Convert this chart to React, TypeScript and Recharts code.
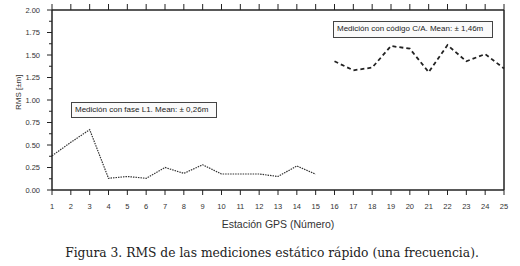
import { LineChart, Line, XAxis, YAxis } from "recharts"

// RMS per GPS station (metres)
const stations = [1, 2, 3, 4, 5, 6, 7, 8, 9, 10, 11, 12, 13, 14, 15, 16, 17, 18, 19, 20, 21, 22, 23, 24, 25]
const faseL1 = [0.38, 0.53, 0.67, 0.13, 0.15, 0.13, 0.25, 0.185, 0.28, 0.178, 0.178, 0.178, 0.15, 0.267, 0.175]
const codigoCA = [1.43, 1.33, 1.36, 1.6, 1.57, 1.31, 1.61, 1.43, 1.51, 1.35]
const yTicks = [0, 0.125, 0.25, 0.375, 0.5, 0.625, 0.75, 0.875, 1, 1.125, 1.25, 1.375, 1.5, 1.625, 1.75, 1.875, 2]

const data = stations.map((s, i) => ({
  station: s,
  fase: i < faseL1.length ? faseL1[i] : null,
  codigo: i >= faseL1.length ? codigoCA[i - faseL1.length] : null,
}))

const AXIS = "#222"
const FONT = "'Liberation Sans', Arial, sans-serif"

const isMajor = (v: number) => Math.abs(v * 4 - Math.round(v * 4)) < 1e-6

function LeftTick(props: any) {
  const { x, y, payload } = props
  const major = isMajor(payload.value)
  return (
    <g>
      <line x1={52 - (major ? 5 : 3)} x2={52} y1={y} y2={y} stroke={AXIS} strokeWidth={1} />
      {major && (
        <text x={x - 4} y={y} dy={2.6} textAnchor="end" fontSize={7.5} fill="#333" fontFamily={FONT}>
          {payload.value.toFixed(2)}
        </text>
      )}
    </g>
  )
}

function RightTick(props: any) {
  const { y, payload } = props
  const major = isMajor(payload.value)
  return <line x1={504} x2={504 + (major ? 5 : 3)} y1={y} y2={y} stroke={AXIS} strokeWidth={1} />
}

function BottomTick(props: any) {
  const { x, payload } = props
  return (
    <g>
      <line x1={x} x2={x} y1={190} y2={195} stroke={AXIS} strokeWidth={1} />
      <text x={x} y={208.5} textAnchor="middle" fontSize={7.5} fill="#333" fontFamily={FONT}>
        {payload.value}
      </text>
    </g>
  )
}

function TopTick(props: any) {
  const { x } = props
  return <line x1={x} x2={x} y1={4} y2={10} stroke={AXIS} strokeWidth={1} />
}

const boxStyle: React.CSSProperties = {
  position: "absolute",
  background: "#fafafa",
  border: "1px solid #444",
  fontFamily: FONT,
  fontSize: 8,
  color: "#222",
  lineHeight: "14px",
  paddingLeft: 3,
  boxSizing: "border-box",
  whiteSpace: "nowrap",
}

export default function App() {
  return (
    <div style={{ position: "absolute", left: 0, top: 0, width: 520, height: 266, background: "#fff" }}>
      <LineChart width={520} height={266} data={data} margin={{ top: 0, right: 0, left: 0, bottom: 0 }}>
        <XAxis
          dataKey="station"
          type="number"
          domain={[1, 25]}
          ticks={stations}
          interval={0}
          height={76}
          stroke={AXIS}
          strokeWidth={1.5}
          tickLine={false}
          tick={<BottomTick />}
          label={{ value: "Estación GPS (Número)", position: "insideTop", offset: 31, fontSize: 10.5, fill: "#333", fontFamily: FONT }}
        />
        <XAxis
          xAxisId="top"
          orientation="top"
          type="number"
          dataKey="station"
          domain={[1, 25]}
          ticks={stations}
          interval={0}
          height={10}
          stroke={AXIS}
          strokeWidth={1.5}
          tickLine={false}
          tick={<TopTick />}
        />
        <YAxis
          type="number"
          domain={[0, 2]}
          ticks={yTicks}
          interval={0}
          width={52}
          stroke={AXIS}
          strokeWidth={1.5}
          tickLine={false}
          tick={<LeftTick />}
          label={{ value: "RMS [±m]", angle: -90, position: "insideLeft", offset: 8, dx: 10, dy: 10, fontSize: 8, fill: "#333", fontFamily: FONT }}
        />
        <YAxis
          yAxisId="right"
          orientation="right"
          type="number"
          domain={[0, 2]}
          ticks={yTicks}
          interval={0}
          width={16}
          stroke={AXIS}
          strokeWidth={1.5}
          tickLine={false}
          tick={<RightTick />}
        />
        <Line
          dataKey="fase"
          stroke="#333"
          strokeWidth={1.2}
          strokeDasharray="1.5 1"
          dot={false}
          connectNulls={false}
          isAnimationActive={false}
        />
        <Line
          dataKey="codigo"
          stroke="#222"
          strokeWidth={1.8}
          strokeDasharray="4 3"
          dot={false}
          connectNulls={false}
          isAnimationActive={false}
        />
      </LineChart>
      <div style={{ ...boxStyle, left: 71, top: 102, width: 146, height: 16 }}>
        Medición con fase L1. Mean: ± 0,26m
      </div>
      <div style={{ ...boxStyle, left: 333, top: 21, width: 160, height: 17, borderWidth: 1.5, lineHeight: "14px" }}>
        Medición con código C/A. Mean: ± 1,46m
      </div>
      <div
        style={{
          position: "absolute",
          left: 0,
          top: 245.5,
          width: 544,
          textAlign: "center",
          fontFamily: "'DejaVu Serif', 'Liberation Serif', serif",
          fontSize: 12.3,
          color: "#222",
          whiteSpace: "nowrap",
        }}
      >
        Figura 3. RMS de las mediciones estático rápido (una frecuencia).
      </div>
    </div>
  )
}
